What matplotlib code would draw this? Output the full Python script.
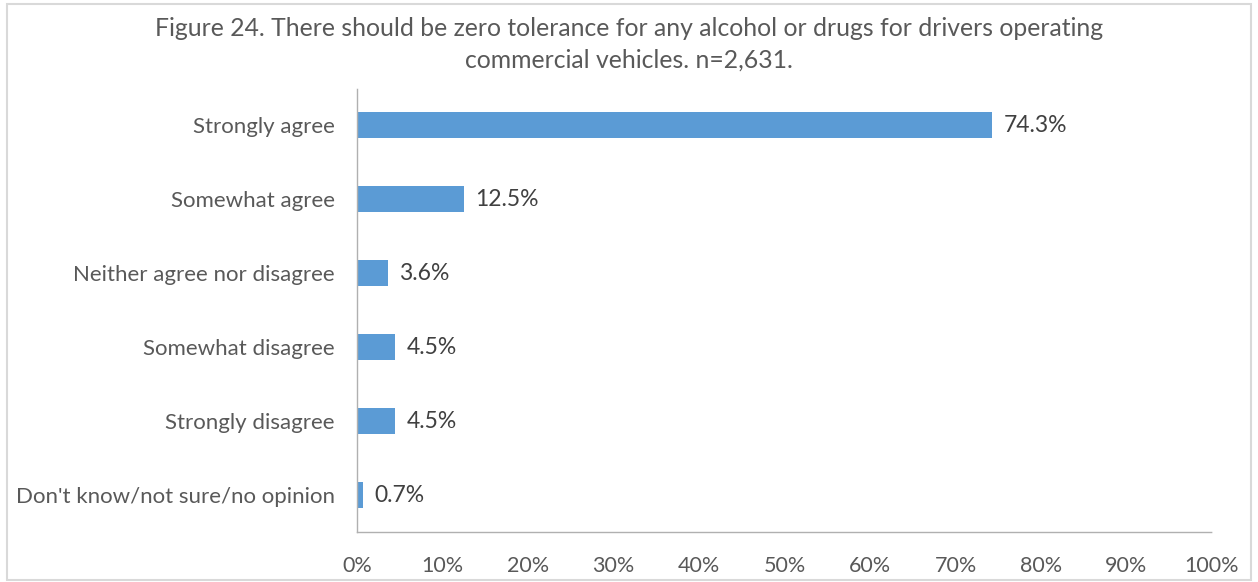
import matplotlib
import matplotlib.pyplot as plt
from matplotlib.patches import Rectangle
from matplotlib.ticker import FuncFormatter, MultipleLocator

matplotlib.use("Agg")

categories = [
    "Strongly agree",
    "Somewhat agree",
    "Neither agree nor disagree",
    "Somewhat disagree",
    "Strongly disagree",
    "Don't know/not sure/no opinion",
]
percentages = [74.3, 12.5, 3.6, 4.5, 4.5, 0.7]

title = ("Figure 24. There should be zero tolerance for any alcohol or drugs for drivers operating\n"
         "commercial vehicles. n=2,631.")

plt.rcParams["font.family"] = ["Lato", "DejaVu Sans"]
text_color = "#595959"
bar_color = "#5B9BD5"

fig = plt.figure(figsize=(12.58, 5.82), dpi=100)
ax = fig.add_axes([357 / 1258, 1 - 532 / 582, (1212 - 357) / 1258, (532 - 88) / 582])

# outer chart border
fig.patches.append(Rectangle((7 / 1258, 2 / 582), 1244 / 1258, 576 / 582,
                             transform=fig.transFigure, fill=False,
                             edgecolor="#D9D9D9", linewidth=1.5))

y = list(range(len(categories)))
ax.barh(y, percentages, height=0.35, color=bar_color)
for yi, v in zip(y, percentages):
    ax.text(v + 1.3, yi, f"{v}%", va="center", ha="left", fontsize=16.5, color="#404040")

ax.set_xlim(0, 100)
ax.set_ylim(len(categories) - 0.5, -0.5)
ax.set_yticks(y)
ax.set_yticklabels(categories, fontsize=16, color=text_color)
ax.xaxis.set_major_locator(MultipleLocator(10))
ax.xaxis.set_major_formatter(FuncFormatter(lambda v, _: f"{v:.0f}%"))
ax.tick_params(axis="x", labelsize=15.5, labelcolor=text_color, length=0, pad=17)
ax.tick_params(axis="y", length=0, pad=16)

for side in ["top", "right"]:
    ax.spines[side].set_visible(False)
for side in ["left", "bottom"]:
    ax.spines[side].set_color("#B0B0B0")
    ax.spines[side].set_linestyle((0, (1, 1)))
    ax.spines[side].set_linewidth(1.0)

fig.text(0.5, 1 - 44 / 582, title, ha="center", va="center", fontsize=17.8,
         color=text_color, linespacing=1.45)

fig.savefig("out.png", dpi=100)
